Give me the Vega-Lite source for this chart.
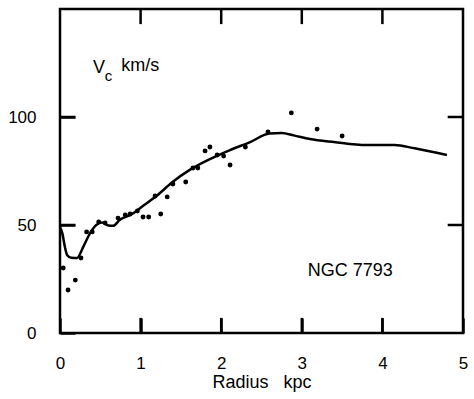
{
  "$schema": "https://vega.github.io/schema/vega-lite/v6.json",
  "width": 403,
  "height": 324,
  "autosize": "none",
  "padding": {"left": 60, "top": 9, "right": 11, "bottom": 66},
  "background": "white",
  "config": {
    "view": {"stroke": "black", "strokeWidth": 2.5},
    "font": "Liberation Sans",
    "axis": {"grid": false, "domain": false, "ticks": true, "tickOpacity": 1, "tickColor": "black", "tickWidth": 2.5, "labelColor": "black", "titleColor": "black", "labelFont": "Liberation Sans", "titleFont": "Liberation Sans", "labelFontSize": 17, "titleFontSize": 18, "titleFontWeight": "normal"}
  },
  "datasets": {
    "points": [
      {"r": 0.04, "v": 30.1}, {"r": 0.10, "v": 19.9}, {"r": 0.19, "v": 24.5}, {"r": 0.26, "v": 34.7},
      {"r": 0.33, "v": 46.8}, {"r": 0.40, "v": 46.8}, {"r": 0.48, "v": 51.4}, {"r": 0.56, "v": 50.9},
      {"r": 0.72, "v": 53.2}, {"r": 0.81, "v": 54.6}, {"r": 0.87, "v": 55.1}, {"r": 0.96, "v": 56.5},
      {"r": 1.03, "v": 53.7}, {"r": 1.10, "v": 53.7}, {"r": 1.18, "v": 63.4}, {"r": 1.25, "v": 55.1},
      {"r": 1.33, "v": 63.0}, {"r": 1.40, "v": 69.0}, {"r": 1.56, "v": 69.9}, {"r": 1.65, "v": 76.4},
      {"r": 1.71, "v": 76.4}, {"r": 1.80, "v": 84.3}, {"r": 1.86, "v": 86.1}, {"r": 1.95, "v": 82.4},
      {"r": 2.03, "v": 81.9}, {"r": 2.11, "v": 77.8}, {"r": 2.30, "v": 86.1}, {"r": 2.58, "v": 93.1},
      {"r": 2.87, "v": 101.9}, {"r": 3.19, "v": 94.4}, {"r": 3.50, "v": 91.2}
    ],
    "curve": [
      {"r": 0.0, "v": 49}, {"r": 0.03, "v": 46}, {"r": 0.06, "v": 40}, {"r": 0.09, "v": 36},
      {"r": 0.14, "v": 34.8}, {"r": 0.21, "v": 34.7}, {"r": 0.29, "v": 40}, {"r": 0.37, "v": 46},
      {"r": 0.45, "v": 50}, {"r": 0.52, "v": 51.2}, {"r": 0.6, "v": 49.8}, {"r": 0.66, "v": 49.6},
      {"r": 0.74, "v": 52.3}, {"r": 0.89, "v": 55}, {"r": 1.0, "v": 58}, {"r": 1.2, "v": 63.5},
      {"r": 1.4, "v": 70}, {"r": 1.61, "v": 75.5}, {"r": 1.86, "v": 80.5}, {"r": 2.11, "v": 84.7},
      {"r": 2.36, "v": 88.4}, {"r": 2.6, "v": 92.4}, {"r": 2.75, "v": 92.6}, {"r": 2.9, "v": 91.5},
      {"r": 3.1, "v": 89.8}, {"r": 3.4, "v": 88.4}, {"r": 3.8, "v": 87}, {"r": 4.15, "v": 87},
      {"r": 4.4, "v": 85.5}, {"r": 4.8, "v": 82.4}
    ],
    "tickseg": [
      {"id": "b1", "r": 1, "v": 0}, {"id": "b1", "r": 1, "v": 7},
      {"id": "b2", "r": 2, "v": 0}, {"id": "b2", "r": 2, "v": 7},
      {"id": "b3", "r": 3, "v": 0}, {"id": "b3", "r": 3, "v": 7},
      {"id": "b4", "r": 4, "v": 0}, {"id": "b4", "r": 4, "v": 7},
      {"id": "t1", "r": 1, "v": 143}, {"id": "t1", "r": 1, "v": 150},
      {"id": "t2", "r": 2, "v": 143}, {"id": "t2", "r": 2, "v": 150},
      {"id": "t3", "r": 3, "v": 143}, {"id": "t3", "r": 3, "v": 150},
      {"id": "t4", "r": 4, "v": 143}, {"id": "t4", "r": 4, "v": 150},
      {"id": "l50", "r": 0, "v": 50}, {"id": "l50", "r": 0.19, "v": 50},
      {"id": "l100", "r": 0, "v": 100}, {"id": "l100", "r": 0.19, "v": 100},
      {"id": "r50", "r": 4.81, "v": 50}, {"id": "r50", "r": 5, "v": 50},
      {"id": "r100", "r": 4.81, "v": 100}, {"id": "r100", "r": 5, "v": 100}
    ]
  },
  "resolve": {"axis": {"x": "independent", "y": "independent"}},
  "layer": [
    {
      "data": {"name": "curve"},
      "mark": {"type": "line", "color": "black", "strokeWidth": 2.5, "interpolate": "monotone"},
      "encoding": {
        "x": {"field": "r", "type": "quantitative", "scale": {"domain": [0, 5], "nice": false},
          "axis": {"orient": "bottom", "title": "Radius\u00a0\u00a0\u00a0kpc", "format": "d", "values": [0, 1, 2, 3, 4, 5], "offset": -15, "tickSize": 15, "labelPadding": 22, "titlePadding": 2, "labelFlush": false}},
        "y": {"field": "v", "type": "quantitative", "scale": {"domain": [0, 150], "nice": false},
          "axis": {"orient": "left", "title": null, "format": "d", "values": [0, 50, 100], "offset": -15, "tickSize": 15, "labelPadding": 24}}
      }
    },
    {
      "data": {"name": "tickseg"},
      "mark": {"type": "line", "color": "black", "strokeWidth": 2.5, "interpolate": "linear"},
      "encoding": {
        "x": {"field": "r", "type": "quantitative", "axis": null},
        "y": {"field": "v", "type": "quantitative", "axis": null},
        "detail": {"field": "id", "type": "nominal"},
        "order": {"field": "r", "type": "quantitative"}
      }
    },
    {
      "data": {"name": "points"},
      "mark": {"type": "circle", "color": "black", "opacity": 1, "size": 24},
      "encoding": {
        "x": {"field": "r", "type": "quantitative", "axis": null},
        "y": {"field": "v", "type": "quantitative", "axis": null}
      }
    },
    {
      "data": {"values": [{}]},
      "mark": {"type": "text", "fontSize": 18, "align": "left", "baseline": "alphabetic", "color": "black"},
      "encoding": {"x": {"datum": 0.41, "axis": null}, "y": {"datum": 120.6, "axis": null}, "text": {"value": "V"}}
    },
    {
      "data": {"values": [{}]},
      "mark": {"type": "text", "fontSize": 15, "align": "left", "baseline": "alphabetic", "color": "black"},
      "encoding": {"x": {"datum": 0.555, "axis": null}, "y": {"datum": 116.5, "axis": null}, "text": {"value": "c"}}
    },
    {
      "data": {"values": [{}]},
      "mark": {"type": "text", "fontSize": 18, "align": "left", "baseline": "alphabetic", "color": "black"},
      "encoding": {"x": {"datum": 0.76, "axis": null}, "y": {"datum": 121.5, "axis": null}, "text": {"value": "km/s"}}
    },
    {
      "data": {"values": [{}]},
      "mark": {"type": "text", "fontSize": 18, "align": "center", "baseline": "alphabetic", "color": "black"},
      "encoding": {"x": {"datum": 3.6, "axis": null}, "y": {"datum": 26.4, "axis": null}, "text": {"value": "NGC 7793"}}
    }
  ]
}
